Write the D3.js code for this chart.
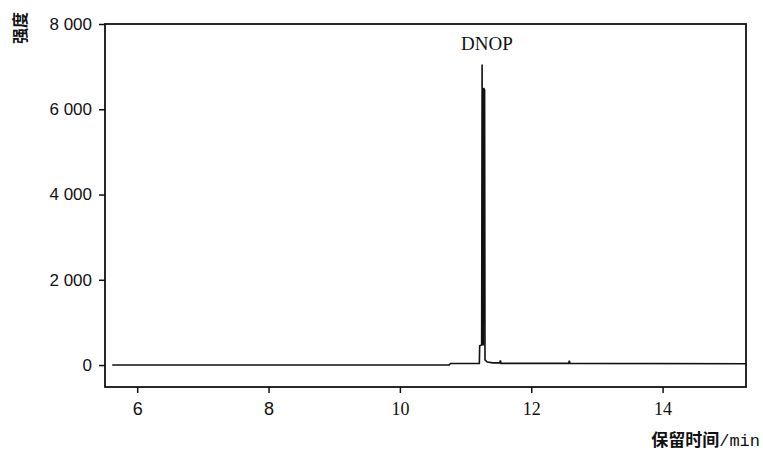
<!DOCTYPE html>
<html>
<head>
<meta charset="utf-8">
<script src="https://cdn.jsdelivr.net/npm/d3@7"></script>
<style>
  body { margin: 0; background: #fff; }
  text { fill: #111; }
</style>
</head>
<body>
<div id="chart"></div>
<script>
// chromatogram trace (time in min, intensity)
var times = [5.62, 10.75, 10.77, 11.21, 11.215, 11.245, 11.252, 11.258, 11.27, 11.276, 11.29, 11.296, 11.33, 11.42, 11.52, 11.53, 11.54, 12.57, 12.58, 12.59, 15.27];
var intensity = [0, 0, 35, 40, 450, 470, 7050, 480, 480, 6500, 6450, 120, 70, 50, 50, 110, 40, 40, 100, 40, 30];
var xTicks = [6, 8, 10, 12, 14];
var yTicks = [0, 2000, 4000, 6000, 8000];
var peakLabel = "DNOP";
var peakTime = 11.265;

var svgWidth = 763;
var svgHeight = 459;
var margin = { top: 24, bottom: 72, left: 105, right: 17 };
var width = svgWidth - margin.left - margin.right;
var height = svgHeight - margin.top - margin.bottom;

var svg = d3.select("#chart")
  .append("svg")
  .attr("width", svgWidth)
  .attr("height", svgHeight);

var chartGroup = svg.append("g")
  .attr("transform", `translate(${margin.left}, ${margin.top})`);

var x = d3.scaleLinear().domain([5.51, 15.27]).range([0, width]);
var y = d3.scaleLinear().domain([-515, 8000]).range([height, 0]);

// frame
chartGroup.append("rect")
  .attr("width", width)
  .attr("height", height)
  .attr("fill", "none")
  .attr("stroke", "#111")
  .attr("stroke-width", 1.8);

// axes
var sans = "'Liberation Sans', Arial, sans-serif";
var serif = "'Liberation Serif', 'Times New Roman', serif";

var bottomAxis = d3.axisBottom(x).tickValues(xTicks).tickSize(6).tickSizeOuter(0);
var gx = chartGroup.append("g")
  .attr("transform", `translate(0, ${height})`)
  .call(bottomAxis);
gx.select(".domain").remove();
gx.selectAll("line").attr("stroke", "#111").attr("stroke-width", 1.5);
gx.selectAll("text")
  .attr("dy", "1.05em")
  .style("font-size", "18px")
  .style("font-family", d => d < 10 ? sans : serif);

var leftAxis = d3.axisLeft(y).tickValues(yTicks).tickSize(6).tickSizeOuter(0)
  .tickFormat(d => d3.format(",")(d).replace(",", " "));
var gy = chartGroup.append("g").call(leftAxis);
gy.select(".domain").remove();
gy.selectAll("line").attr("stroke", "#111").attr("stroke-width", 1.5);
gy.selectAll("text")
  .attr("x", -13)
  .style("font-size", "17px")
  .style("font-family", sans);

// trace
var points = times.map((t, i) => [t, intensity[i]]);
chartGroup.append("path")
  .datum(points)
  .attr("fill", "none")
  .attr("stroke", "#111")
  .attr("stroke-width", 1.6)
  .attr("d", d3.line().x(d => x(d[0])).y(d => y(d[1])));

// peak label
chartGroup.append("text")
  .attr("x", x(peakTime) + 4)
  .attr("y", y(d3.max(intensity)) - 14)
  .attr("text-anchor", "middle")
  .style("font-family", serif)
  .style("font-size", "19px")
  .text(peakLabel);

// axis titles
svg.append("text")
  .attr("transform", "translate(26, 28) rotate(-90)")
  .attr("text-anchor", "middle")
  .style("font-family", "'Noto Sans CJK SC', sans-serif")
  .style("font-weight", "bold")
  .style("font-size", "16px")
  .text("强度");

var xTitle = svg.append("text")
  .attr("x", 760)
  .attr("y", 446)
  .attr("text-anchor", "end")
  .style("font-size", "17px");
xTitle.append("tspan")
  .style("font-family", "'Noto Sans CJK SC', sans-serif")
  .style("font-weight", "bold")
  .text("保留时间");
xTitle.append("tspan")
  .style("font-family", "'Liberation Mono', 'DejaVu Sans Mono', monospace")
  .text("/min");
</script>
</body>
</html>
